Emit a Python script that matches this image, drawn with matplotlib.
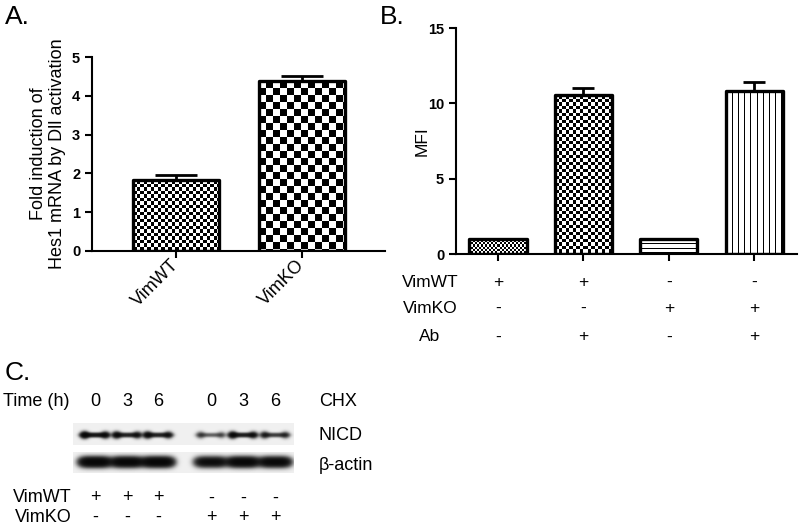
import numpy as np
import matplotlib
matplotlib.use('Agg')
import matplotlib.pyplot as plt

plt.rcParams['font.family'] = ['Liberation Sans', 'DejaVu Sans']

# A: Hes1
grupos_a = ['VimWT', 'VimKO']
hes1 = [1.82, 4.38]
hes1_err = [0.15, 0.12]

# B: MFI
mfi = [1.0, 10.55, 1.0, 10.85]
mfi_err = [0.0, 0.5, 0.0, 0.55]
filas_b = ['VimWT', 'VimKO', 'Ab']
vimwt_b = ['+', '+', '-', '-']
vimko_b = ['-', '-', '+', '+']
ab_b = ['-', '+', '-', '+']

# C: western blot
tiempos = ['0', '3', '6', '0', '3', '6']
vimwt_c = ['+', '+', '+', '-', '-', '-']
vimko_c = ['-', '-', '-', '+', '+', '+']
nicd = [1.0, 0.8, 0.8, 0.35, 0.85, 0.55]
actina = [1.0, 0.95, 1.0, 0.8, 0.95, 0.9]

W, H = 800, 530


def rect(x0, y0, x1, y1):
    return [x0 / W, 1 - y1 / H, (x1 - x0) / W, (y1 - y0) / H]


def rellenar(ax, barra, tipo, paso, desfase=0):
    x0, y0 = barra.get_x(), barra.get_y()
    x1, y1 = x0 + barra.get_width(), y0 + barra.get_height()
    (p0, q0), (p1, q1) = ax.transData.transform([(x0, y0), (x1, y1)])
    nx, ny = max(int(round(p1 - p0)), 1), max(int(round(q1 - q0)), 1)
    jj, ii = np.meshgrid(np.arange(nx), np.arange(ny))
    if tipo == 'cuadros':
        m = ((ii // paso + jj // paso) % 2).astype(float)
    elif tipo == 'h':
        m = ((ii % paso) == desfase).astype(float)
    else:
        m = ((jj % paso) == desfase).astype(float)
    img = ax.imshow(m, cmap='gray_r', vmin=0, vmax=1, extent=(x0, x1, y0, y1),
                    origin='upper', interpolation='nearest', aspect='auto', zorder=1)
    img.set_clip_path(barra)


def estilo(ax):
    for s in ['top', 'right']:
        ax.spines[s].set_visible(False)
    for s in ['left', 'bottom']:
        ax.spines[s].set_linewidth(1.5)
    ax.tick_params(direction='out', length=5, width=1.5)
    for t in ax.get_yticklabels():
        t.set_fontweight('bold')
        t.set_fontsize(10.5)


fig = plt.figure(figsize=(8, 5.3), dpi=100)

# ---- A ----
axA = fig.add_axes(rect(92, 57, 385, 251))
xa = np.arange(len(hes1))
axA.set_xlim(-0.667, 1.659)
axA.set_ylim(0, 5)
barsA = axA.bar(xa, hes1, 0.68, facecolor='none', edgecolor='black', linewidth=2.4,
                joinstyle='round', zorder=2)
axA.errorbar(xa, hes1, yerr=[np.zeros(2), hes1_err], fmt='none', ecolor='black',
             elinewidth=2, capsize=15, capthick=2, zorder=3)
rellenar(axA, barsA[0], 'cuadros', 3.5)
rellenar(axA, barsA[1], 'cuadros', 7)
axA.set_xlim(-0.667, 1.659)
axA.set_ylim(0, 5)
axA.set_yticks(range(6))
axA.set_xticks(xa)
axA.set_xticklabels(grupos_a, rotation=45, ha='right', va='center',
                    rotation_mode='anchor', fontsize=13)
axA.set_ylabel('Fold induction of\nHes1 mRNA by Dll activation', fontsize=13, labelpad=4)
estilo(axA)

# ---- B ----
axB = fig.add_axes(rect(456, 28, 797, 254))
xb = np.arange(len(mfi))
axB.set_xlim(-0.49, 3.5)
axB.set_ylim(0, 15)
barsB = axB.bar(xb, mfi, 0.67, facecolor='none', edgecolor='black', linewidth=2.4,
                joinstyle='round', zorder=2)
axB.errorbar(xb[[1, 3]], np.array(mfi)[[1, 3]], yerr=[np.zeros(2), np.array(mfi_err)[[1, 3]]],
             fmt='none', ecolor='black', elinewidth=2, capsize=8, capthick=2, zorder=3)
rellenar(axB, barsB[0], 'cuadros', 2)
rellenar(axB, barsB[1], 'cuadros', 3.5)
rellenar(axB, barsB[2], 'h', 4, 1)
rellenar(axB, barsB[3], 'v', 6)
axB.set_xlim(-0.49, 3.5)
axB.set_ylim(0, 15)
axB.set_yticks([0, 5, 10, 15])
axB.set_xticks(xb)
axB.set_xticklabels([])
axB.set_ylabel('MFI', fontsize=12.5, labelpad=-1)
estilo(axB)
tr = axB.get_xaxis_transform()
for fila, signos, yy in zip(filas_b, [vimwt_b, vimko_b, ab_b], [-0.124, -0.239, -0.367]):
    axB.text(-0.076, yy, fila, transform=axB.transAxes, ha='center', va='center', fontsize=12.5)
    for xi, s in zip(xb, signos):
        axB.text(xi, yy, s, transform=tr, ha='center', va='center', fontsize=12.5)

# ---- C ----
axC = fig.add_axes(rect(0, 360, 800, 530))
axC.set_xlim(0, 800)
axC.set_ylim(530, 360)
axC.axis('off')

carriles = [95, 127, 158, 211, 243, 275]


def tira(y0, y1, cy, valores, hw, sy, extremos, fuerza):
    xs = np.arange(73, 294) + 0.5
    ys = np.arange(y0, y1) + 0.5
    xx, yy = np.meshgrid(xs, ys)
    d = np.zeros_like(xx)
    for cx, v in zip(carriles, valores):
        d += v * np.exp(-((xx - cx) / hw) ** 4) * np.exp(-((yy - cy) / sy) ** 2)
        if extremos:
            for dx, k in [(-0.8 * hw, 1.0), (0.8 * hw, 0.7)]:
                d += k * v * np.exp(-((xx - cx - dx) / 4.0) ** 2 - ((yy - cy) / 3.2) ** 2)
    d = 1 - np.exp(-fuerza * d)
    axC.imshow(0.94 - 0.93 * d, cmap='gray', vmin=0, vmax=1, extent=(73, 294, y1, y0),
               origin='upper', interpolation='bilinear', aspect='auto')


tira(423, 445, 435, nicd, 13, 2.0, True, 2.6)
tira(452, 473, 462, actina, 15.5, 4.6, False, 4.0)
axC.set_xlim(0, 800)
axC.set_ylim(530, 360)

fs = 13
axC.text(3, 402, 'Time (h)', ha='left', va='center', fontsize=fs)
for cx, t in zip(carriles, tiempos):
    axC.text(cx, 402, t, ha='center', va='center', fontsize=fs)
axC.text(319, 402, 'CHX', ha='left', va='center', fontsize=fs)
axC.text(319, 436, 'NICD', ha='left', va='center', fontsize=fs)
axC.text(319, 465, 'β-actin', ha='left', va='center', fontsize=fs)
axC.text(72, 498, 'VimWT', ha='right', va='center', fontsize=fs)
axC.text(72, 517, 'VimKO', ha='right', va='center', fontsize=fs)
for cx, a, b in zip(carriles, vimwt_c, vimko_c):
    axC.text(cx, 498, a, ha='center', va='center', fontsize=fs)
    axC.text(cx, 517, b, ha='center', va='center', fontsize=fs)

# panel letters
fig.text(5 / W, 1 - 17 / H, 'A.', fontsize=19, ha='left', va='center')
fig.text(380 / W, 1 - 17 / H, 'B.', fontsize=19, ha='left', va='center')
fig.text(5 / W, 1 - 373 / H, 'C.', fontsize=19, ha='left', va='center')

fig.savefig('out.png', dpi=100)
